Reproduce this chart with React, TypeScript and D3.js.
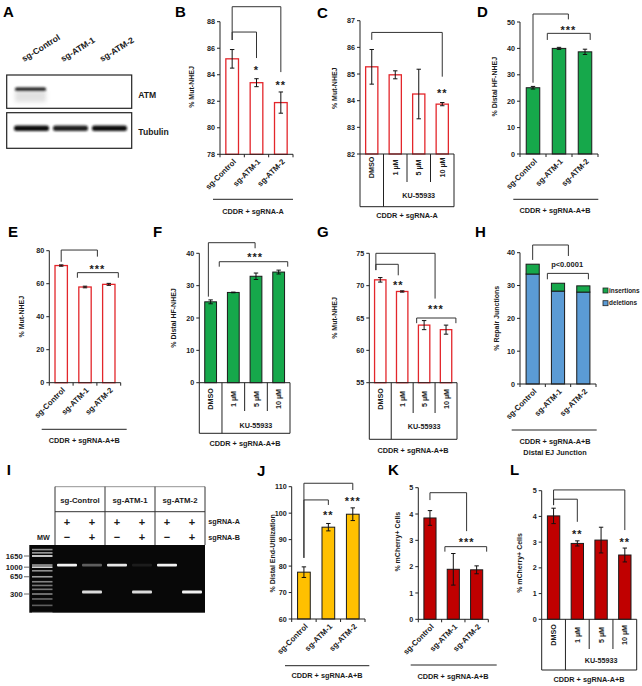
import React from "react";
import * as d3 from "d3";

const FONT = "'Liberation Sans', Arial, Helvetica, sans-serif";
const TXT = "#1a1a1a";
const RED = "#e3262b";
const GREEN = "#16a84b";
const GOLD = "#ffc000";
const DARKRED = "#c00000";
const BLUE = "#5b9bd5";

// ---------- categories ----------
const sgCats = ["sg-Control", "sg-ATM-1", "sg-ATM-2"];
const kuCats = ["DMSO", "1 µM", "5 µM", "10 µM"];
const kuGroup = "KU-55933";

// ---------- B ----------
const bValues = [85.2, 83.4, 81.9];
const bErrors = [0.7, 0.3, 0.8];
const bTicks = [78, 80, 82, 84, 86, 88];
// ---------- C ----------
const cValues = [85.27, 84.97, 84.25, 83.87];
const cErrors = [0.65, 0.15, 0.93, 0.06];
const cTicks = [82, 83, 84, 85, 86, 87];
// ---------- D ----------
const dValues = [25.1, 40.0, 38.7];
const dErrors = [0.5, 0.4, 1.0];
const dTicks = [0, 10, 20, 30, 40, 50];
// ---------- E ----------
const eValues = [71.0, 58.0, 59.6];
const eErrors = [0.4, 0.5, 0.6];
const eTicks = [0, 20, 40, 60, 80];
// ---------- F ----------
const fValues = [25.0, 27.9, 32.9, 34.2];
const fErrors = [0.6, 0.1, 1.0, 0.6];
const fTicks = [0, 10, 20, 30, 40];
// ---------- G ----------
const gValues = [70.9, 69.1, 63.9, 63.2];
const gErrors = [0.35, 0.1, 0.7, 0.7];
const gTicks = [55, 60, 65, 70, 75];
// ---------- H ----------
const hDeletions = [33.5, 28.3, 28.0];
const hInsertions = [3.0, 2.4, 1.9];
const hTicks = [0, 10, 20, 30, 40];
const hSeries = ["insertions", "deletions"];
// ---------- J ----------
const jValues = [77.7, 94.7, 99.6];
const jErrors = [2.0, 1.4, 2.4];
const jTicks = [60, 70, 80, 90, 100, 110];
// ---------- K ----------
const kValues = [3.85, 1.9, 1.88];
const kErrors = [0.28, 0.6, 0.15];
const kTicks = [0, 1, 2, 3, 4, 5];
// ---------- L ----------
const lValues = [4.02, 2.95, 3.08, 2.5];
const lErrors = [0.3, 0.1, 0.5, 0.27];
const lTicks = [0, 1, 2, 3, 4, 5];

// ---------- A (western blot) ----------
const blotLanes = ["sg-Control", "sg-ATM-1", "sg-ATM-2"];
const atmIntensity = [1, 0, 0];
const tubulinIntensity = [1, 0.92, 1];

// ---------- I (gel) ----------
const gelGroups = ["sg-Control", "sg-ATM-1", "sg-ATM-2"];
const sgRNA_A = ["+", "+", "+", "+", "+", "+"];
const sgRNA_B = ["−", "+", "−", "+", "−", "+"];
const mwLabels = [1650, 1000, 650, 300];
const ladderBands = [2200, 1900, 1650, 1100, 1000, 850, 650, 520, 440, 370, 300, 240, 180, 130];
const ladderBright = [0.55, 0.6, 0.95, 0.6, 0.85, 0.55, 0.6, 0.5, 0.45, 0.45, 0.5, 0.4, 0.35, 0.3];
const laneLong = [0.95, 0.35, 0.9, 0.08, 0.95, 0];
const laneShort = [0, 0.85, 0, 0.85, 0, 0.95];
const longBp = 1100;
const shortBp = 330;

type Bracket = { a: number; b: number; top: number; endA: number; endB: number };
type Mark = { at: number; v: number; text: string; size?: number };
interface PanelCfg {
  letter: string;
  letterPos: [number, number];
  x0: number; xEnd: number; yTop: number; yBottom: number;
  domain: [number, number];
  ticks: number[];
  cats: string[];
  values: number[];
  errors?: number[];
  stackValues?: number[];
  fill: string; stroke: string; sw: number;
  stackFill?: string;
  ylabel: string; ylabelPos: [number, number];
  mode: "rot" | "table";
  groupLine: { y: number; x1: number; x2: number };
  groupLabels: { text: string; y: number }[];
  groupLabelX: number;
  table?: { labelY: number; innerBottom: number; outerBottom: number; kuY: number };
  brackets: Bracket[];
  marks: Mark[];
}

const panels: PanelCfg[] = [
  {
    letter: "B", letterPos: [175, 17], x0: 220, xEnd: 293, yTop: 21.7, yBottom: 154.3,
    domain: [78, 88], ticks: bTicks, cats: sgCats, values: bValues, errors: bErrors,
    fill: "#fff", stroke: RED, sw: 1.3, ylabel: "% Mut-NHEJ", ylabelPos: [191.7, 87], mode: "rot",
    groupLine: { y: 199.3, x1: 213, x2: 293 }, groupLabels: [{ text: "CDDR + sgRNA-A", y: 211 }], groupLabelX: 253,
    brackets: [
      { a: 0, b: 2, top: 89.13, endA: 86.62, endB: 84.2 },
      { a: 0, b: 1, top: 87.22, endA: 86.62, endB: 85.26 },
    ],
    marks: [{ at: 1, v: 84.58, text: "*" }, { at: 2, v: 83.45, text: "**" }],
  },
  {
    letter: "C", letterPos: [317, 18], x0: 360, xEnd: 454, yTop: 20.7, yBottom: 154,
    domain: [82, 87], ticks: cTicks, cats: kuCats, values: cValues, errors: cErrors,
    fill: "#fff", stroke: RED, sw: 1.3, ylabel: "% Mut-NHEJ", ylabelPos: [335, 88.3], mode: "table",
    table: { labelY: 167.5, innerBottom: 182, outerBottom: 206.7, kuY: 195.7 },
    groupLine: { y: 206.7, x1: 360, x2: 454 }, groupLabels: [{ text: "CDDR + sgRNA-A", y: 215.5 }], groupLabelX: 407,
    brackets: [{ a: 0, b: 3, top: 86.56, endA: 86.28, endB: 84.9 }],
    marks: [{ at: 3, v: 84.37, text: "**" }],
  },
  {
    letter: "D", letterPos: [477, 17], x0: 520, xEnd: 598, yTop: 22, yBottom: 154,
    domain: [0, 50], ticks: dTicks, cats: sgCats, values: dValues, errors: dErrors,
    fill: GREEN, stroke: "#1a1a1a", sw: 1, ylabel: "% Distal HF-NHEJ", ylabelPos: [495, 86.7], mode: "rot",
    groupLine: { y: 199.3, x1: 513.3, x2: 598.3 }, groupLabels: [{ text: "CDDR + sgRNA-A+B", y: 210.7 }], groupLabelX: 555,
    brackets: [
      { a: 0, b: 1.36, top: 53.03, endA: 27, endB: 51.0 },
      { a: 0.55, b: 2.2, top: 45.7, endA: 43.2, endB: 43.2 },
    ],
    marks: [{ at: 1.36, v: 48.1, text: "***" }],
  },
  {
    letter: "E", letterPos: [8, 237], x0: 49.3, xEnd: 120.7, yTop: 250.7, yBottom: 382.7,
    domain: [0, 80], ticks: eTicks, cats: sgCats, values: eValues, errors: eErrors,
    fill: "#fff", stroke: RED, sw: 1.3, ylabel: "% Mut-NHEJ", ylabelPos: [21.7, 316.7], mode: "rot",
    groupLine: { y: 429.3, x1: 41.7, x2: 126.7 }, groupLabels: [{ text: "CDDR + sgRNA-A+B", y: 440.7 }], groupLabelX: 84.3,
    brackets: [
      { a: 0, b: 1.52, top: 80.4, endA: 73.3, endB: 76.4 },
      { a: 0.68, b: 2.4, top: 66.7, endA: 63.6, endB: 63.6 },
    ],
    marks: [{ at: 1.52, v: 70.7, text: "***" }],
  },
  {
    letter: "F", letterPos: [153, 237], x0: 199.3, xEnd: 290, yTop: 253.3, yBottom: 382.7,
    domain: [0, 40], ticks: fTicks, cats: kuCats, values: fValues, errors: fErrors,
    fill: GREEN, stroke: "#1a1a1a", sw: 1, ylabel: "% Distal HF-NHEJ", ylabelPos: [173.3, 318], mode: "table",
    table: { labelY: 399, innerBottom: 411, outerBottom: 433.3, kuY: 425 },
    groupLine: { y: 433.3, x1: 199.3, x2: 290 }, groupLabels: [{ text: "CDDR + sgRNA-A+B", y: 443.5 }], groupLabelX: 245,
    brackets: [
      { a: -0.1, b: 1.96, top: 43.28, endA: 26.6, endB: 41.55 },
      { a: 0.38, b: 3.4, top: 37.4, endA: 35.86, endB: 35.86 },
    ],
    marks: [{ at: 1.96, v: 39.7, text: "***" }],
  },
  {
    letter: "G", letterPos: [317, 237], x0: 369.3, xEnd: 457, yTop: 253.3, yBottom: 382.7,
    domain: [55, 75], ticks: gTicks, cats: kuCats, values: gValues, errors: gErrors,
    fill: "#fff", stroke: RED, sw: 1.3, ylabel: "% Mut-NHEJ", ylabelPos: [335, 318], mode: "table",
    table: { labelY: 399, innerBottom: 413, outerBottom: 439.3, kuY: 426.7 },
    groupLine: { y: 439.3, x1: 369.3, x2: 457 }, groupLabels: [{ text: "CDDR + sgRNA-A+B", y: 450 }], groupLabelX: 413,
    brackets: [
      { a: -0.2, b: 2.5, top: 75.0, endA: 72.4, endB: 68.0 },
      { a: -0.2, b: 0.82, top: 73.3, endA: 72.4, endB: 71.6 },
      { a: 1.66, b: 3.45, top: 65.0, endA: 64.2, endB: 64.2 },
    ],
    marks: [{ at: 0.82, v: 70.45, text: "**" }, { at: 2.54, v: 66.75, text: "***" }],
  },
  {
    letter: "H", letterPos: [475, 237], x0: 520, xEnd: 596, yTop: 252.7, yBottom: 384,
    domain: [0, 40], ticks: hTicks, cats: sgCats, values: hDeletions, stackValues: hInsertions,
    fill: BLUE, stackFill: GREEN, stroke: "#1a1a1a", sw: 1, ylabel: "% Repair Junctions", ylabelPos: [496.7, 318.3], mode: "rot",
    groupLine: { y: 430, x1: 511.7, x2: 596.7 },
    groupLabels: [{ text: "CDDR + sgRNA-A+B", y: 441.7 }, { text: "Distal EJ Junction", y: 452 }], groupLabelX: 555,
    brackets: [
      { a: 0, b: 1.41, top: 42.35, endA: 37.8, endB: 39.0 },
      { a: 0.58, b: 2.2, top: 33.7, endA: 31.9, endB: 31.9 },
    ],
    marks: [{ at: 1.36, v: 36.5, text: "p<0.0001", size: 7.5 }],
  },
  {
    letter: "J", letterPos: [257, 476], x0: 291.7, xEnd: 365, yTop: 486.7, yBottom: 619,
    domain: [60, 110], ticks: jTicks, cats: sgCats, values: jValues, errors: jErrors,
    fill: GOLD, stroke: "#1a1a1a", sw: 1, ylabel: "% Distal End-Utilization", ylabelPos: [272.7, 553.3], mode: "rot",
    groupLine: { y: 665.7, x1: 285, x2: 369.3 }, groupLabels: [{ text: "CDDR + sgRNA-A+B", y: 675.7 }], groupLabelX: 327,
    brackets: [
      { a: 0, b: 2, top: 111.3, endA: 83.1, endB: 108.75 },
      { a: 0, b: 1, top: 105, endA: 83.1, endB: 103.1 },
    ],
    marks: [{ at: 1, v: 100.25, text: "**" }, { at: 2, v: 105.6, text: "***" }],
  },
  {
    letter: "K", letterPos: [388, 475], x0: 418.3, xEnd: 488.3, yTop: 487.7, yBottom: 619.3,
    domain: [0, 5], ticks: kTicks, cats: sgCats, values: kValues, errors: kErrors,
    fill: DARKRED, stroke: "#1a1a1a", sw: 1, ylabel: "% mCherry+ Cells", ylabelPos: [397.3, 541.7], mode: "rot",
    groupLine: { y: 665, x1: 410.7, x2: 496.7 }, groupLabels: [{ text: "CDDR + sgRNA-A+B", y: 676.3 }], groupLabelX: 453,
    brackets: [
      { a: 0, b: 1.57, top: 4.81, endA: 4.53, endB: 3.35 },
      { a: 0.64, b: 2.43, top: 2.76, endA: 2.57, endB: 2.57 },
    ],
    marks: [{ at: 1.57, v: 3.04, text: "***" }],
  },
  {
    letter: "L", letterPos: [510, 475], x0: 541.7, xEnd: 636.7, yTop: 490.7, yBottom: 619.3,
    domain: [0, 5], ticks: lTicks, cats: kuCats, values: lValues, errors: lErrors,
    fill: DARKRED, stroke: "#1a1a1a", sw: 1, ylabel: "% mCherry+ Cells", ylabelPos: [520, 563], mode: "table",
    table: { labelY: 635, innerBottom: 649, outerBottom: 670, kuY: 660.7 },
    groupLine: { y: 670, x1: 541.7, x2: 636.7 }, groupLabels: [{ text: "CDDR + sgRNA-A+B", y: 679.5 }], groupLabelX: 589,
    brackets: [
      { a: 0, b: 3, top: 5.03, endA: 4.44, endB: 3.47 },
      { a: 0, b: 1, top: 4.67, endA: 4.44, endB: 3.79 },
    ],
    marks: [{ at: 1, v: 3.43, text: "**" }, { at: 3, v: 3.11, text: "**" }],
  },
];

const textProps = { fontFamily: FONT, fontWeight: 700 as const, fill: TXT };

function BarPanel({ c }: { c: PanelCfg }) {
  const y = d3.scaleLinear().domain(c.domain).range([c.yBottom, c.yTop]);
  const n = c.cats.length;
  const xb = d3.scaleBand<string>().domain(c.cats).range([c.x0, c.xEnd]);
  const xi = d3.scaleLinear().domain([-0.5, n - 0.5]).range([c.x0, c.xEnd]);
  const bw = xb.bandwidth() * 0.52;
  const boundaries = d3.range(n + 1).map((i) => xi(i - 0.5));
  return (
    <g>
      <text x={c.letterPos[0]} y={c.letterPos[1]} fontSize={15} {...textProps} fill="#000">{c.letter}</text>
      {/* bars */}
      {c.cats.map((cat, i) => {
        const cx = (xb(cat) as number) + xb.bandwidth() / 2;
        const v = c.values[i];
        const els = [
          <rect key="b" x={cx - bw / 2} y={y(v)} width={bw} height={y(c.domain[0]) - y(v)}
            fill={c.fill} stroke={c.stroke} strokeWidth={c.sw} />,
        ];
        if (c.stackValues) {
          const v2 = v + c.stackValues[i];
          els.push(<rect key="s" x={cx - bw / 2} y={y(v2)} width={bw} height={y(v) - y(v2)}
            fill={c.stackFill} stroke={c.stroke} strokeWidth={c.sw} />);
        }
        if (c.errors) {
          const e = c.errors[i];
          const y1 = y(v + e), y2 = y(v - e);
          els.push(
            <g key="e" stroke="#111" strokeWidth={1}>
              <line x1={cx} x2={cx} y1={y1} y2={y2} />
              <line x1={cx - 2.2} x2={cx + 2.2} y1={y1} y2={y1} />
              <line x1={cx - 2.2} x2={cx + 2.2} y1={y2} y2={y2} />
            </g>
          );
        }
        return <g key={cat}>{els}</g>;
      })}
      {/* y axis */}
      <line x1={c.x0} x2={c.x0} y1={y(c.domain[0])} y2={y(c.domain[1])} stroke="#222" strokeWidth={1} />
      {c.ticks.map((t) => (
        <g key={t}>
          <line x1={c.x0 - 3} x2={c.x0} y1={y(t)} y2={y(t)} stroke="#222" strokeWidth={1} />
          <text x={c.x0 - 5} y={y(t)} dy="0.35em" textAnchor="end" fontSize={7.2} {...textProps}>{t}</text>
        </g>
      ))}
      <text transform={`translate(${c.ylabelPos[0]},${c.ylabelPos[1]}) rotate(-90)`} textAnchor="middle" dy="0.35em" fontSize={7} {...textProps}>{c.ylabel}</text>
      {/* x axis */}
      <line x1={c.x0} x2={c.xEnd} y1={c.yBottom} y2={c.yBottom} stroke="#222" strokeWidth={1} />
      {c.mode === "rot" && boundaries.map((bx, i) => (
        <line key={i} x1={bx} x2={bx} y1={c.yBottom} y2={c.yBottom + 3} stroke="#222" strokeWidth={1} />
      ))}
      {c.mode === "rot" && c.cats.map((cat) => {
        const cx = (xb(cat) as number) + xb.bandwidth() / 2;
        return (
          <text key={cat} transform={`translate(${cx + 2.5},${c.yBottom + 6}) rotate(-45)`} textAnchor="end" dy="0.35em" fontSize={7.8} {...textProps}>{cat}</text>
        );
      })}
      {c.mode === "table" && c.table && (
        <g>
          {boundaries.map((bx, i) => {
            const outer = i === 0 || i === 1 || i === n;
            return <line key={i} x1={bx} x2={bx} y1={c.yBottom} y2={outer ? c.table!.outerBottom : c.table!.innerBottom} stroke="#222" strokeWidth={1} />;
          })}
          {c.cats.map((cat) => {
            const cx = (xb(cat) as number) + xb.bandwidth() / 2;
            return (
              <text key={cat} transform={`translate(${cx},${c.table!.labelY}) rotate(-90)`} textAnchor="middle" dy="0.35em" fontSize={7.2} {...textProps}>{cat}</text>
            );
          })}
          <text x={xi(2)} y={c.table.kuY} dy="0.35em" textAnchor="middle" fontSize={7.2} {...textProps}>{kuGroup}</text>
        </g>
      )}
      {/* group line + labels */}
      <line x1={c.groupLine.x1} x2={c.groupLine.x2} y1={c.groupLine.y} y2={c.groupLine.y} stroke="#222" strokeWidth={1} />
      {c.groupLabels.map((g) => (
        <text key={g.text} x={c.groupLabelX} y={g.y} dy="0.35em" textAnchor="middle" fontSize={7.3} {...textProps}>{g.text}</text>
      ))}
      {/* significance brackets */}
      {c.brackets.map((b, i) => (
        <path key={i} d={`M${xi(b.a)},${y(b.endA)}V${y(b.top)}H${xi(b.b)}V${y(b.endB)}`} fill="none" stroke="#333" strokeWidth={1} />
      ))}
      {c.marks.map((m, i) => (
        <text key={i} x={xi(m.at)} y={y(m.v)} dy={m.size ? "0.35em" : "0.6em"} textAnchor="middle"
          fontSize={m.size || 11} letterSpacing={m.size ? 0 : 1} {...textProps}>{m.text}</text>
      ))}
    </g>
  );
}

function Blot() {
  const laneX = d3.scaleBand<string>().domain(blotLanes).range([13, 128]).paddingInner(0.05);
  return (
    <g>
      <text x={3} y={17} fontSize={15} {...textProps} fill="#000">A</text>
      {blotLanes.map((l) => (
        <text key={l} transform={`translate(${(laneX(l) as number) + 11},${62}) rotate(-32)`} fontSize={8.6} {...textProps}>{l}</text>
      ))}
      <rect x={6.7} y={75} width={125} height={33.3} fill="#fff" stroke="#222" strokeWidth={1.2} />
      <rect x={6.7} y={112.7} width={125} height={35.6} fill="#fff" stroke="#222" strokeWidth={1.2} />
      {blotLanes.map((l, i) => {
        const x = laneX(l) as number;
        const w = laneX.bandwidth();
        return (
          <g key={l}>
            {atmIntensity[i] > 0 && (
              <g>
                <rect x={x + 2} y={90} width={w - 6} height={12} fill="#aaa" opacity={0.35 * atmIntensity[i]} filter="url(#blur2)" />
                <rect x={x + 2} y={87.6} width={w - 6} height={3.2} rx={1.5} fill="#1a1a1a" opacity={atmIntensity[i]} filter="url(#blur1)" />
              </g>
            )}
            <rect x={x + 1} y={125.6} width={w - 2} height={5.4} rx={2.5} fill="#111" opacity={tubulinIntensity[i]} filter="url(#blur1)" />
          </g>
        );
      })}
      <text x={138.3} y={95} dy="0.35em" fontSize={8.6} {...textProps}>ATM</text>
      <text x={138.3} y={131.7} dy="0.35em" fontSize={8.6} {...textProps}>Tubulin</text>
    </g>
  );
}

function Gel() {
  const gy = d3.scaleLog().domain([1650, 300]).range([556, 594]);
  const groupX = d3.scaleBand<string>().domain(gelGroups).range([55, 205]);
  const laneX = d3.scaleBand<number>().domain(d3.range(6)).range([55, 205]);
  const lc = (i: number) => (laneX(i) as number) + laneX.bandwidth() / 2 - 0.5;
  return (
    <g>
      <text x={6.7} y={475} fontSize={15} {...textProps} fill="#000">I</text>
      {/* header table */}
      <line x1={55} x2={205} y1={486.7} y2={486.7} stroke="#777" strokeWidth={0.8} />
      <line x1={55} x2={205} y1={511.7} y2={511.7} stroke="#333" strokeWidth={1} />
      {d3.range(4).map((i) => {
        const x = 55 + i * groupX.bandwidth();
        return <line key={i} x1={x} x2={x} y1={486.7} y2={545} stroke="#333" strokeWidth={1} />;
      })}
      {gelGroups.map((g) => (
        <text key={g} x={(groupX(g) as number) + groupX.bandwidth() / 2} y={500} dy="0.35em" textAnchor="middle" fontSize={7.8} {...textProps}>{g}</text>
      ))}
      {sgRNA_A.map((s, i) => (
        <text key={"a" + i} x={lc(i)} y={521.7} dy="0.35em" textAnchor="middle" fontSize={11} {...textProps}>{s}</text>
      ))}
      {sgRNA_B.map((s, i) => (
        <text key={"b" + i} x={lc(i)} y={537} dy="0.35em" textAnchor="middle" fontSize={11} {...textProps}>{s}</text>
      ))}
      <text x={208.3} y={521.7} dy="0.35em" fontSize={7.2} {...textProps}>sgRNA-A</text>
      <text x={208.3} y={537} dy="0.35em" fontSize={7.2} {...textProps}>sgRNA-B</text>
      <text x={43.3} y={537.5} dy="0.35em" textAnchor="middle" fontSize={7.2} {...textProps}>MW</text>
      {/* gel */}
      <rect x={29.3} y={545} width={175.7} height={67.7} fill="#080808" />
      {ladderBands.map((bp, i) => (
        <rect key={bp} x={32} y={gy(bp) - 0.8} width={20.5} height={1.6} fill="#fff" opacity={ladderBright[i]} filter="url(#blur05)" />
      ))}
      {d3.range(6).map((i) => (
        <g key={i}>
          {laneLong[i] > 0 && (
            <rect x={lc(i) - 10} y={gy(longBp) - 1.4} width={20} height={2.8} rx={1} fill="#fff" opacity={laneLong[i]} filter="url(#blur05)" />
          )}
          {laneShort[i] > 0 && (
            <rect x={lc(i) - 10} y={gy(shortBp) - 1.5} width={20} height={3} rx={1} fill="#fff" opacity={laneShort[i]} filter="url(#blur05)" />
          )}
        </g>
      ))}
      {mwLabels.map((m) => (
        <g key={m}>
          <text x={22.7} y={gy(m)} dy="0.35em" textAnchor="end" fontSize={7.6} {...textProps}>{m}</text>
          <line x1={24} x2={29.3} y1={gy(m)} y2={gy(m)} stroke="#444" strokeWidth={0.8} />
        </g>
      ))}
    </g>
  );
}

function Legend() {
  const cols = [GREEN, BLUE];
  return (
    <g>
      {hSeries.map((s, i) => (
        <g key={s}>
          <rect x={603} y={288 + i * 12.7} width={5} height={5} fill={cols[i]} stroke="#222" strokeWidth={0.8} />
          <text x={609} y={290.5 + i * 12.7} dy="0.35em" fontSize={6.4} {...textProps}>{s}</text>
        </g>
      ))}
    </g>
  );
}

export default function App() {
  return (
    <svg width={642} height={686} style={{ position: "absolute", left: 0, top: 0, background: "#fff" }}>
      <defs>
        <filter id="blur05" x="-20%" y="-200%" width="140%" height="500%"><feGaussianBlur stdDeviation="0.5" /></filter>
        <filter id="blur1" x="-20%" y="-100%" width="140%" height="300%"><feGaussianBlur stdDeviation="0.8" /></filter>
        <filter id="blur2" x="-30%" y="-50%" width="160%" height="200%"><feGaussianBlur stdDeviation="2" /></filter>
      </defs>
      <rect width={642} height={686} fill="#fff" />
      <Blot />
      {panels.map((p) => <BarPanel key={p.letter} c={p} />)}
      <Legend />
      <Gel />
    </svg>
  );
}
